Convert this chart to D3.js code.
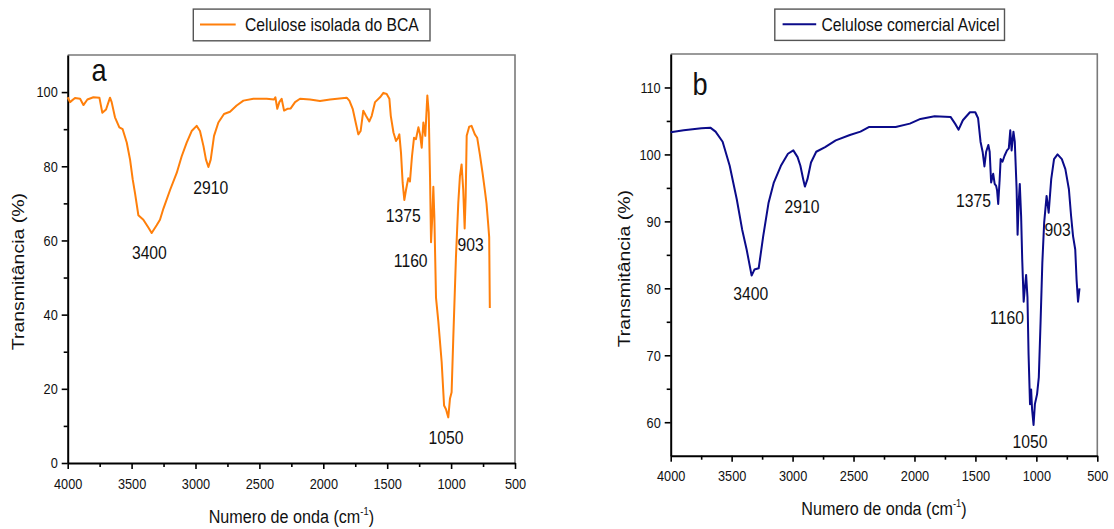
<!DOCTYPE html>
<html><head><meta charset="utf-8">
<script src="https://cdn.jsdelivr.net/npm/d3@7"></script>
<style>body{margin:0;background:#fff}svg{display:block}</style>
</head><body>
<svg id="c" width="1114" height="529"></svg>
<script>
// ---------- DATA ----------
const bcaWavenumber = [4000,3982,3943,3903,3877,3846,3799,3752,3729,3700,3669,3656,3630,3596,3570,3538,3512,3491,3473,3447,3408,3369,3343,3304,3278,3251,3199,3147,3108,3069,3030,2991,2965,2938,2918,2899,2881,2855,2821,2777,2730,2678,2625,2547,2443,2386,2375,2360,2344,2326,2307,2281,2255,2221,2182,2104,2026,1947,1817,1796,1770,1744,1726,1708,1687,1666,1640,1621,1595,1556,1530,1504,1483,1472,1451,1431,1415,1405,1392,1379,1366,1353,1335,1322,1306,1290,1275,1256,1243,1230,1217,1202,1186,1175,1165,1157,1147,1139,1131,1118,1100,1074,1055,1040,1022,1009,996,983,962,944,931,918,905,894,886,878,858,840,814,796,775,754,736,723,710,702,697];
const bcaTransmittance = [98.6,97.3,98.4,98.2,96.5,98.0,98.6,98.5,94.4,95.3,98.5,97.3,93.2,90.5,90.0,86.4,81.8,76.4,72.7,66.8,65.6,63.5,62.0,64.1,65.6,68.6,73.6,78.2,82.7,86.4,89.5,90.9,89.5,85.5,81.8,79.8,81.8,88.2,91.8,94.1,94.7,96.4,97.7,98.2,98.2,98.0,98.6,95.5,97.3,98.2,95.0,95.5,95.6,97.3,98.2,98.0,97.6,98.0,98.5,97.7,95.5,91.4,88.6,89.5,95.0,93.6,92.1,93.6,97.3,98.6,99.8,99.5,98.2,93.6,89.1,86.8,87.7,88.6,83.6,75.5,70.9,73.6,76.8,75.9,82.7,87.7,87.3,90.5,88.6,85.0,91.8,88.2,99.1,94.5,77.3,59.5,66.4,74.5,66.4,44.5,38.2,27.3,15.5,14.5,12.3,17.3,19.1,33.6,55.5,70.0,77.3,80.5,73.6,63.2,71.8,88.2,90.7,90.9,88.6,87.7,83.2,78.2,73.6,70.0,64.5,60.9,41.8];

const avicelWavenumber = [4000,3893,3748,3675,3632,3574,3516,3458,3414,3377,3336,3313,3278,3241,3197,3154,3096,3038,2994,2959,2936,2913,2899,2878,2849,2806,2733,2646,2530,2443,2371,2270,2154,2038,1951,1835,1704,1667,1638,1603,1545,1501,1478,1458,1441,1426,1412,1394,1383,1371,1354,1342,1330,1322,1313,1301,1293,1278,1261,1241,1226,1214,1203,1188,1177,1162,1154,1145,1136,1125,1116,1104,1096,1084,1073,1064,1052,1043,1035,1023,1012,994,980,965,951,936,916,899,878,855,826,791,762,733,715,699,681,670,658,646];
const avicelTransmittance = [103.3,103.6,103.9,104.0,103.4,101.9,98.3,93.3,88.8,85.8,81.9,82.8,83.0,87.8,92.8,95.8,98.3,100.1,100.6,99.6,98.3,96.3,95.2,96.3,98.8,100.4,101.1,102.1,102.9,103.4,104.1,104.1,104.1,104.6,105.3,105.7,105.6,104.6,103.7,105.1,106.3,106.3,105.4,101.9,100.4,98.2,100.4,101.4,100.4,95.8,97.1,95.6,95.3,94.6,92.6,96.3,99.3,98.9,99.8,100.6,100.9,103.6,100.6,103.4,101.9,94.8,88.0,92.8,95.6,90.8,84.3,78.0,79.7,82.0,78.7,70.2,62.7,64.9,61.9,59.6,62.7,64.2,66.7,75.2,83.8,89.8,93.8,91.3,96.3,99.3,100.0,99.3,97.8,94.8,90.8,87.8,85.8,81.3,78.0,80.0];

const xTickLabels = [4000,3500,3000,2500,2000,1500,1000,500];
const xMinorTicks = [3750,3250,2750,2250,1750,1250,750];
const yTicksA = [0,20,40,60,80,100];
const yMinorA = [10,30,50,70,90];
const yTicksB = [60,70,80,90,100,110];
const yMinorB = [65,75,85,95,105];

const peakLabels = ["3400","2910","1375","1160","903","1050"];
const peakWnA = [3361,2881,1374,1316,847,1040];
const peakTA  = [56.8,74.4,66.8,54.6,58.9,7.0];
const peakWnB = [3343,2923,1516,1241,826,1052];
const peakTB  = [79.3,92.3,93.1,75.6,88.8,57.2];

const seriesNames = ["Celulose isolada do BCA","Celulose comercial Avicel"];
const panelLetters = ["a","b"];
const yTitle = "Transmitância (%)";

// ---------- LAYOUT ----------
const SX = 0.85;
const FONT = "'Liberation Sans', Arial, Helvetica, sans-serif";
const svg = d3.select("#c");

const panels = [
  {box:{l:67.7,r:515,t:55,b:463}, yDom:[0,110], yT:yTicksA, yM:yMinorA,
   wn:bcaWavenumber, T:bcaTransmittance, color:"#ff7f0a", name:seriesNames[0],
   legend:{x0:193.3,x1:430,y0:9.1,y1:40.8,l0:200,l1:235.7,ly:24.6,tx:245},
   letter:panelLetters[0], letterX:99, letterY:81, yTitleX:18.3, yTitleY:271.6,
   pWn:peakWnA, pT:peakTA},
  {box:{l:670.7,r:1097.3,t:54,b:455.7}, yDom:[55,115], yT:yTicksB, yM:yMinorB,
   wn:avicelWavenumber, T:avicelTransmittance, color:"#0b0b8a", name:seriesNames[1],
   legend:{x0:774.8,x1:1004.5,y0:9.1,y1:40.4,l0:782.6,l1:816.2,ly:24.3,tx:821.5},
   letter:panelLetters[1], letterX:700, letterY:95, yTitleX:623.6, yTitleY:268.7,
   pWn:peakWnB, pT:peakTB}
];

function htext(g, x, y, str, size, anchor){
  return g.append("text")
    .attr("transform", `translate(${x},${y}) scale(${SX},1)`)
    .attr("text-anchor", anchor)
    .attr("font-family", FONT)
    .attr("font-size", size)
    .attr("fill", "#111")
    .text(str);
}

panels.forEach(p => {
  const B = p.box;
  const x = d3.scaleLinear().domain([4000,500]).range([B.l,B.r]);
  const y = d3.scaleLinear().domain(p.yDom).range([B.b,B.t]);
  const g = svg.append("g");

  // frame top/right (gray)
  g.append("path").attr("d", `M${B.l},${B.t}H${B.r}V${B.b}`)
    .attr("fill","none").attr("stroke","#7a7a7a").attr("stroke-width",1.6);

  // minor ticks
  g.append("g").attr("transform",`translate(0,${B.b})`)
    .call(d3.axisBottom(x).tickValues(xMinorTicks).tickSize(4).tickFormat(""))
    .call(a=>a.select(".domain").remove())
    .selectAll("line").attr("stroke","#000").attr("stroke-width",1.6);
  g.append("g").attr("transform",`translate(${B.l},0)`)
    .call(d3.axisLeft(y).tickValues(p.yM).tickSize(4).tickFormat(""))
    .call(a=>a.select(".domain").remove())
    .selectAll("line").attr("stroke","#000").attr("stroke-width",1.6);

  // major axes
  const xa = g.append("g").attr("transform",`translate(0,${B.b})`)
    .call(d3.axisBottom(x).tickValues(xTickLabels).tickSize(6).tickSizeOuter(0).tickPadding(9).tickFormat(d3.format("d")));
  const ya = g.append("g").attr("transform",`translate(${B.l},0)`)
    .call(d3.axisLeft(y).tickValues(p.yT).tickSize(6).tickSizeOuter(0).tickPadding(4).tickFormat(d3.format("d")));
  [xa,ya].forEach(a=>{
    a.select(".domain").attr("stroke","#000").attr("stroke-width",2);
    a.selectAll(".tick line").attr("stroke","#000").attr("stroke-width",1.6);
    a.selectAll("text").attr("font-family",FONT).attr("font-size",15).attr("fill","#111")
      .attr("transform",`scale(${SX},1)`);
  });
  ya.selectAll("text").attr("x",-10/SX);

  // spectrum
  const pts = p.wn.map((w,i)=>[w,p.T[i]]);
  g.append("path").datum(pts)
    .attr("d", d3.line().x(d=>x(d[0])).y(d=>y(d[1])))
    .attr("fill","none").attr("stroke",p.color).attr("stroke-width",2)
    .attr("stroke-linejoin","round");

  // peak labels
  peakLabels.forEach((s,i)=>{
    htext(g, x(p.pWn[i]), y(p.pT[i]), s, 18.5, "middle").attr("dy","0.36em");
  });

  // panel letter
  htext(g, p.letterX, p.letterY, p.letter, 32, "middle");

  // axis titles
  const xt = htext(g, (B.l+B.r)/2, B.b+59.5, "", 19, "middle");
  xt.append("tspan").text("Numero de onda (cm");
  xt.append("tspan").attr("font-size",11).attr("dy",-8).text("-1");
  xt.append("tspan").attr("dy",8).text(")");
  g.append("text")
    .attr("transform",`translate(${p.yTitleX},${p.yTitleY}) rotate(-90) scale(1,${SX})`)
    .attr("text-anchor","middle").attr("dy","0.36em")
    .attr("font-family",FONT).attr("font-size",19.5).attr("fill","#111")
    .text(yTitle);

  // legend
  const L = p.legend;
  g.append("rect").attr("x",L.x0).attr("y",L.y0).attr("width",L.x1-L.x0).attr("height",L.y1-L.y0)
    .attr("fill","#fff").attr("stroke","#555").attr("stroke-width",1.4);
  g.append("line").attr("x1",L.l0).attr("x2",L.l1).attr("y1",L.ly).attr("y2",L.ly)
    .attr("stroke",p.color).attr("stroke-width",2);
  htext(g, L.tx, L.ly, p.name, 18.5, "start").attr("dy","0.36em");
});
</script>
</body></html>
